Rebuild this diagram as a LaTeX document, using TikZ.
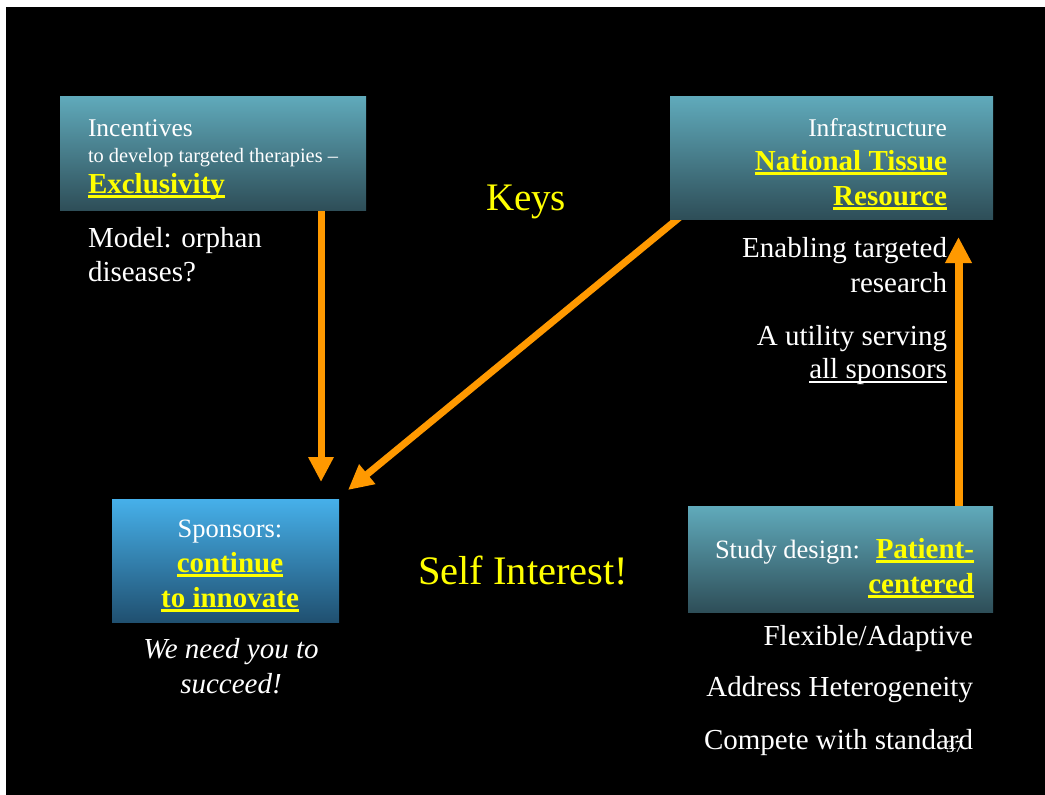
\documentclass[tikz,border=0pt]{standalone}
\usepackage{fontspec}
\setmainfont{Liberation Serif}
\usetikzlibrary{arrows.meta,backgrounds}
\definecolor{arr}{RGB}{255,153,0}
\definecolor{yel}{RGB}{255,255,0}
\definecolor{boxtop}{RGB}{96,170,187}
\definecolor{boxmid}{RGB}{78,140,156}
\definecolor{boxbot}{RGB}{46,78,88}
\definecolor{sptop}{RGB}{70,176,234}
\definecolor{spmid}{RGB}{52,136,190}
\definecolor{spbot}{RGB}{32,80,112}
\newcommand\ulthick[1]{\setbox0=\hbox{#1}\rlap{\rule[-0.17em]{\wd0}{0.09em}}\box0}
\newcommand\ulthin[1]{\setbox0=\hbox{#1}\rlap{\rule[-0.16em]{\wd0}{0.05em}}\box0}
\tikzset{
  box/.style={rectangle, anchor=north west, inner sep=0pt, outer sep=0pt,
    top color=boxtop, middle color=boxmid, bottom color=boxbot},
  spbox/.style={rectangle, anchor=north west, inner sep=0pt, outer sep=0pt,
    top color=sptop, middle color=spmid, bottom color=spbot},
  txt/.style={inner sep=0pt, outer sep=0pt, text=white, font=\fontsize{29}{34}\selectfont},
  head/.style={txt, font=\fontsize{25.5}{30}\selectfont},
  key/.style={inner sep=0pt, outer sep=0pt, text=yel, font=\fontsize{29}{34}\selectfont\bfseries},
  big/.style={inner sep=0pt, outer sep=0pt, text=yel, font=\fontsize{40.5}{46}\selectfont},
  arrowline/.style={draw=arr, line width=7pt, -{Triangle[length=25pt,width=24pt]}},
}
\begin{document}
\begin{tikzpicture}[x=1pt,y=-1pt]
\useasboundingbox (0,0) rectangle (1045,795);
% boxes
\node[box, minimum width=306pt, minimum height=114pt] (inc) at (60,96) {};
\node[box, minimum width=323pt, minimum height=123pt] (infra) at (670,96) {};
\node[spbox, minimum width=227pt, minimum height=123pt] (spons) at (112,499) {};
\node[box, minimum width=305pt, minimum height=106pt] (study) at (688,506) {};
% arrow end points
\coordinate (tipA) at (321,482);
\coordinate (tipB) at (348,490);
\coordinate (startB) at (686,212);
\coordinate (tipC) at (958.5,237);
\begin{pgfonlayer}{background}
\fill[white] (0,0) rectangle (1045,795);
\fill[black] (6,7) rectangle (1045,795);
\draw[arrowline] (tipA |- inc.south) -- (tipA);
\draw[arrowline] (startB) -- (tipB);
\draw[arrowline, line width=8pt, -{Triangle[length=26pt,width=25pt]}] (tipC |- study.north) -- (tipC);
\end{pgfonlayer}
% incentives
\node[head, anchor=base west] (t1) at (88,136) {Incentives};
\node[txt, anchor=base west, font=\fontsize{20.4}{24}\selectfont] (t2) at (88,162) {to develop targeted therapies –};
\node[key, anchor=base west] (t3) at (88,193) {\ulthick{Exclusivity}};
\node[txt, anchor=base west] (t4) at (88,247) {Model: orphan};
\node[txt, anchor=base west] (t5) at (88,281) {diseases?};
% keys
\node[big, anchor=base west, font=\fontsize{39}{44}\selectfont] (keys) at (486,210) {Keys};
% infrastructure
\node[head, anchor=base east] (r1) at (947,136) {Infrastructure};
\node[key, anchor=base east] (r2) at (947,170) {\ulthick{National Tissue}};
\node[key, anchor=base east] (r3) at (947,205) {\ulthick{Resource}};
\node[txt, anchor=base east] (r4) at (947,257) {Enabling targeted};
\node[txt, anchor=base east] (r5) at (947,292) {research};
\node[txt, anchor=base east] (r6) at (947,345) {A utility serving};
\node[txt, anchor=base east] (r7) at (947,378) {\ulthin{all sponsors}};
% sponsors
\node[head, anchor=base, font=\fontsize{26.5}{30}\selectfont] (s1) at (230,537) {Sponsors:};
\node[key, anchor=base] (s2) at (230,572) {\ulthick{continue}};
\node[key, anchor=base] (s3) at (230,607) {\ulthick{to innovate}};
\node[txt, anchor=base, font=\fontsize{29}{34}\selectfont\itshape] (s4) at (231,658) {We need you to};
\node[txt, anchor=base, font=\fontsize{29}{34}\selectfont\itshape] (s5) at (231,693) {succeed!};
% self interest
\node[big, anchor=base west] (self) at (418,584) {Self Interest!};
% study design
\node[head, anchor=base west, font=\fontsize{26.5}{30}\selectfont] (d1) at (715,558) {Study design:};
\node[key, anchor=base east] (d2) at (974,558) {\ulthick{Patient-}};
\node[key, anchor=base east] (d3) at (974,593) {\ulthick{centered}};
\node[txt, anchor=base east, font=\fontsize{29}{34}\selectfont] (d4) at (973,645) {Flexible/Adaptive};
\node[txt, anchor=base east, font=\fontsize{29}{34}\selectfont] (d5) at (973,696) {Address Heterogeneity};
\node[txt, anchor=base east, font=\fontsize{29}{34}\selectfont] (d6) at (973,749) {Compete with standard};
\node[txt, anchor=base east, font=\fontsize{17}{20}\selectfont] (num) at (963,752) {37};
\end{tikzpicture}
\end{document}
